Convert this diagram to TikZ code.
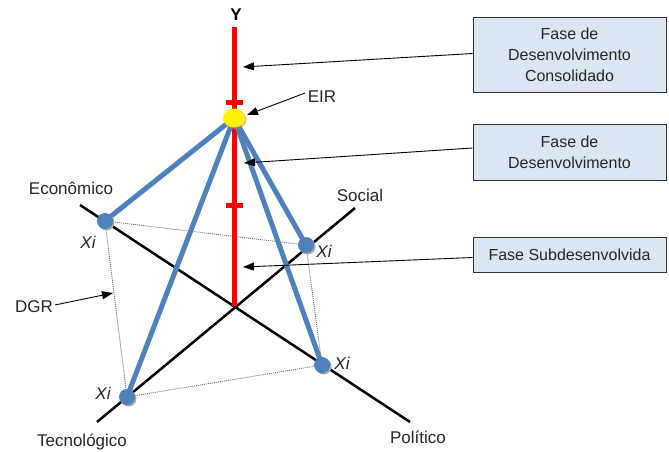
\documentclass[tikz,border=0pt]{standalone}
\usepackage{fontspec}
\setmainfont{Liberation Sans}
\usetikzlibrary{arrows.meta,shapes.geometric}
\definecolor{linkblue}{RGB}{79,129,189}
\definecolor{boxfill}{RGB}{220,230,242}
\definecolor{axisred}{RGB}{255,0,0}
\begin{document}
\begin{tikzpicture}[x=1pt,y=-1pt,
  phasebox/.style={draw=black!80, line width=0.8pt, fill=boxfill, align=center,
    font=\fontsize{16}{21}\selectfont, text=black!85, minimum width=193pt, inner sep=0pt},
  axislab/.style={font=\fontsize{17}{20}\selectfont, inner sep=0pt, text=black!85},
  xilab/.style={font=\fontsize{17}{20}\selectfont\itshape, inner sep=0pt, text=black!85},
  axisline/.style={line width=2.5pt, black},
  dotline/.style={draw=black!55, line width=0.9pt, dash pattern=on 1pt off 1pt},
  bluelink/.style={line width=5pt, draw=linkblue},
  xipt/.style={circle, fill=linkblue, minimum size=16pt, inner sep=0pt},
  xishadow/.style={circle, fill=black!35, minimum size=16pt, inner sep=0pt},
  redline/.style={line width=5pt, draw=axisred},
  pointer/.style={-{Triangle[length=11pt,width=8pt]}, line width=0.9pt, black}
]
\useasboundingbox (0,0) rectangle (669,452);

% axes
\coordinate (E1) at (80,205);
\coordinate (E2) at (410,422);
\coordinate (T1) at (97,422);
\coordinate (S2) at (355,208);
\coordinate (O) at (234,306);
\draw[axisline] (E1) -- (E2);
\draw[axisline] (T1) -- (S2);

% points
\coordinate (XE) at (105,221);
\coordinate (XS) at (306,245);
\coordinate (XP) at (322,365);
\coordinate (XT) at (127,397);
\coordinate (EIRc) at (234,118);

% dotted polygon
\draw[dotline] (XE) -- (XS) -- (XP) -- (XT) -- cycle;

% red axis
\coordinate (Ytop) at (234,27);
\draw[redline] (Ytop) -- (O);
\coordinate (t1a) at (226,102); \coordinate (t1b) at (243,102);
\coordinate (t2a) at (226,205); \coordinate (t2b) at (243,205);
\draw[redline] (t1a) -- (t1b);
\draw[redline] (t2a) -- (t2b);

% blue links
\draw[bluelink] (EIRc) -- (XE);
\draw[bluelink] (EIRc) -- (XS);
\draw[bluelink] (EIRc) -- (XP);
\draw[bluelink] (EIRc) -- (XT);

% Xi circles
\foreach \p in {XE,XS,XP,XT}{
  \node[xishadow] at ([xshift=1.5pt,yshift=-1.5pt]\p) {};
  \node[xipt] (c\p) at (\p) {};
}

% EIR ellipse
\fill[orange!50!brown, opacity=0.5] ([xshift=1.5pt,yshift=-1.5pt]EIRc) ellipse [x radius=11pt, y radius=9.5pt];
\node[ellipse, fill=yellow, minimum width=22pt, minimum height=19pt, inner sep=0pt] (eir) at (EIRc) {};

% labels
\node[font=\fontsize{17}{20}\selectfont\bfseries, inner sep=0pt] (Ylab) at (236,15) {Y};
\node[axislab] (eirlab) at (322,97) {EIR};
\node[axislab] (econ) at (71,188) {Econômico};
\node[axislab] (soc) at (360,195) {Social};
\node[axislab] (pol) at (418,437) {Político};
\node[axislab] (tec) at (82,442) {Tecnológico};
\node[axislab] (dgr) at (34,307) {DGR};
\node[xilab] (xiE) at (88,242) {Xi};
\node[xilab] (xiS) at (324,251) {Xi};
\node[xilab] (xiP) at (342,363) {Xi};
\node[xilab] (xiT) at (103,393) {Xi};

% phase boxes
\node[phasebox, minimum height=75pt] (b1) at (569.5,54.5) {Fase de\\Desenvolvimento\\Consolidado};
\node[phasebox, minimum height=56pt] (b2) at (569.5,152) {Fase de\\Desenvolvimento};
\node[phasebox, minimum height=35pt] (b3) at (569.5,254.5) {Fase Subdesenvolvida};

% pointers
\coordinate (a1) at (243,67);
\coordinate (a2) at (244,163);
\coordinate (a3) at (243,267);
\coordinate (aE) at (247,115);
\coordinate (aEs) at (305,93);
\coordinate (aD) at (113,293);
\coordinate (aDs) at (55,305);
\draw[pointer] ([yshift=1pt]b1.west) -- (a1);
\draw[pointer] ([yshift=4pt]b2.west) -- (a2);
\draw[pointer] ([yshift=-3pt]b3.west) -- (a3);
\draw[pointer] (aEs) -- (aE);
\draw[pointer] (aDs) -- (aD);
\end{tikzpicture}
\end{document}
